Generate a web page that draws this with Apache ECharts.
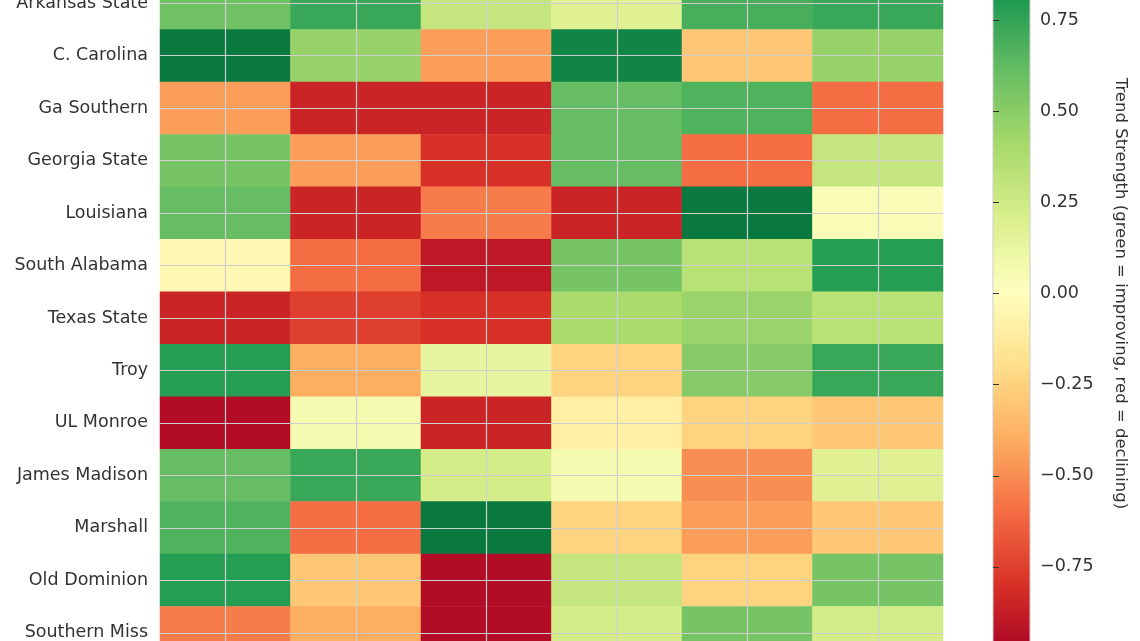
<!DOCTYPE html>
<html><head><meta charset="utf-8">
<script src="https://cdn.jsdelivr.net/npm/echarts@6/dist/echarts.min.js"></script>
<style>html,body{margin:0;background:#fff;overflow:hidden;width:1140px;height:641px;position:relative}#c{width:1140px;height:800px;position:absolute;left:0;top:-80px}</style>
</head><body><div id="c"></div>
<script>
const teams = ['Arkansas State','C. Carolina','Ga Southern','Georgia State','Louisiana','South Alabama','Texas State','Troy','UL Monroe','James Madison','Marshall','Old Dominion','Southern Miss'];
const periods = ['P1','P2','P3','P4','P5','P6'];
const valArkansasState = [0.57,0.72,0.28,0.17,0.68,0.72];
const valCCarolina = [0.93,0.45,-0.45,0.88,-0.3,0.45];
const valGaSouthern = [-0.45,-0.85,-0.85,0.6,0.66,-0.6];
const valGeorgiaState = [0.55,-0.45,-0.8,0.6,-0.6,0.28];
const valLouisiana = [0.6,-0.85,-0.55,-0.85,0.93,0.03];
const valSouthAlabama = [-0.05,-0.6,-0.9,0.55,0.33,0.77];
const valTexasState = [-0.85,-0.75,-0.8,0.38,0.44,0.33];
const valTroy = [0.77,-0.4,0.12,-0.25,0.5,0.72];
const valULMonroe = [-0.95,0.06,-0.85,-0.1,-0.25,-0.3];
const valJamesMadison = [0.6,0.72,0.22,0.06,-0.5,0.17];
const valMarshall = [0.66,-0.6,0.93,-0.25,-0.45,-0.3];
const valOldDominion = [0.77,-0.3,-0.95,0.28,-0.25,0.55];
const valSouthernMiss = [-0.55,-0.4,-0.95,0.22,0.55,0.22];
const rows = [valArkansasState,valCCarolina,valGaSouthern,valGeorgiaState,valLouisiana,valSouthAlabama,valTexasState,valTroy,valULMonroe,valJamesMadison,valMarshall,valOldDominion,valSouthernMiss];
const cmap = ['#a50026','#d73027','#f46d43','#fdae61','#fee08b','#ffffbf','#d9ef8b','#a6d96a','#66bd63','#1a9850','#006837'];

const data = [];
rows.forEach((r,i)=>r.forEach((v,j)=>data.push([j,i,v])));
const chart = echarts.init(document.getElementById('c'));
const off=80;
const gridTop=-23+off, gridH=682;
const cbTop=-76+off, cbH=734;
chart.setOption({
  animation:false,
  grid:[{left:160,width:783,top:gridTop,height:gridH},{left:993,width:37,top:cbTop,height:cbH}],
  xAxis:[{type:'category',data:periods,gridIndex:0,axisLabel:{show:false},axisTick:{show:false},axisLine:{show:false},splitLine:{show:false}},
         {type:'value',gridIndex:1,show:false,min:0,max:1}],
  yAxis:[{type:'category',data:teams,inverse:true,gridIndex:0,axisTick:{show:false},axisLine:{show:false},
          axisLabel:{fontSize:17.5,color:'#333',fontFamily:'DejaVu Sans',margin:12}},
         {type:'value',gridIndex:1,position:'right',min:-1,max:1,interval:0.25,
          axisLine:{show:false},splitLine:{show:false},
          axisTick:{show:true,length:6,lineStyle:{color:'#333'}},
          axisLabel:{fontSize:17.5,color:'#333',fontFamily:'DejaVu Sans',margin:10,
            formatter:v=>v.toFixed(2).replace('-','\u2212')},
          name:'Trend Strength (green = improving, red = declining)',nameLocation:'middle',nameRotate:-90,nameGap:82,
          nameTextStyle:{fontSize:16.5,color:'#333',fontFamily:'DejaVu Sans'}}],
  visualMap:{show:false,min:-1,max:1,seriesIndex:0,inRange:{color:cmap}},
  graphic:[{type:'rect',shape:{x:993,y:cbTop,width:37,height:cbH},
    style:{fill:new echarts.graphic.LinearGradient(0,1,0,0,cmap.map((c,i)=>({offset:i/(cmap.length-1),color:c}))),stroke:'#ccc',lineWidth:1},z:-1}],
  series:[{type:'heatmap',xAxisIndex:0,yAxisIndex:0,data:data,itemStyle:{borderWidth:0},
    markLine:{silent:true,symbol:'none',label:{show:false},lineStyle:{color:'#cfcfcf',type:'solid',width:1.2},
      data:periods.map(p=>({xAxis:p})).concat(teams.map(t=>({yAxis:t})))}}]
});
</script></body></html>
